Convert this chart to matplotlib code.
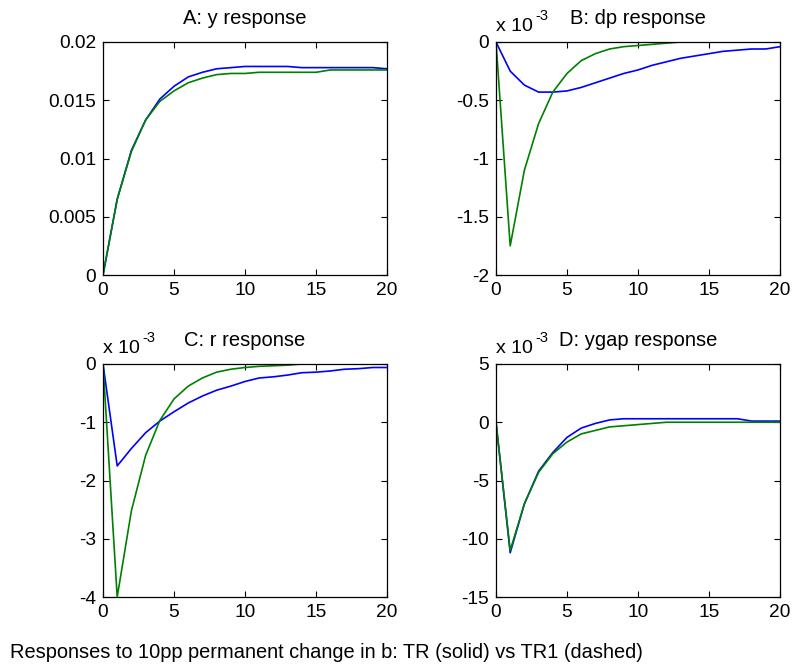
import numpy as np
import matplotlib.pyplot as plt

plt.rcParams['font.family'] = ['Liberation Sans', 'DejaVu Sans']

periods = np.arange(21)

# TR (blue) vs TR1 (green) impulse responses
y_tr = [0, 0.0065, 0.0107, 0.0133, 0.0151, 0.0162, 0.0170, 0.0174, 0.0177, 0.0178, 0.0179,
        0.0179, 0.0179, 0.0179, 0.0178, 0.0178, 0.0178, 0.0178, 0.0178, 0.0178, 0.0177]
y_tr1 = [0, 0.0065, 0.0106, 0.0133, 0.0149, 0.0158, 0.0165, 0.0169, 0.0172, 0.0173, 0.0173,
         0.0174, 0.0174, 0.0174, 0.0174, 0.0174, 0.0176, 0.0176, 0.0176, 0.0176, 0.0176]

dp_tr = [0, -0.25, -0.37, -0.43, -0.43, -0.42, -0.39, -0.35, -0.31, -0.27, -0.24,
         -0.20, -0.17, -0.14, -0.12, -0.10, -0.08, -0.07, -0.06, -0.06, -0.04]
dp_tr1 = [0, -1.75, -1.10, -0.70, -0.43, -0.27, -0.16, -0.10, -0.06, -0.04, -0.03,
          -0.02, -0.01, 0, 0, 0, 0, 0, 0, 0, 0]

r_tr = [0, -1.75, -1.45, -1.18, -0.98, -0.82, -0.67, -0.55, -0.45, -0.38, -0.30,
        -0.24, -0.22, -0.19, -0.15, -0.14, -0.12, -0.09, -0.08, -0.06, -0.06]
r_tr1 = [0, -4.0, -2.52, -1.57, -0.97, -0.60, -0.38, -0.24, -0.14, -0.09, -0.06,
         -0.04, -0.03, -0.02, 0, 0, 0, 0, 0, 0, 0]

ygap_tr = [0, -11.2, -7.0, -4.2, -2.6, -1.3, -0.5, -0.1, 0.2, 0.3, 0.3,
           0.3, 0.3, 0.3, 0.3, 0.3, 0.3, 0.3, 0.1, 0.1, 0.1]
ygap_tr1 = [0, -11.0, -7.0, -4.3, -2.7, -1.7, -1.0, -0.7, -0.4, -0.3, -0.2,
            -0.1, 0, 0, 0, 0, 0, 0, 0, 0, 0]

panels = [
    ('A: y response', y_tr, y_tr1, (0, 0.02), [0, 0.005, 0.01, 0.015, 0.02],
     ['0', '0.005', '0.01', '0.015', '0.02'], False),
    ('B: dp response', dp_tr, dp_tr1, (-2, 0), [-2, -1.5, -1, -0.5, 0],
     ['-2', '-1.5', '-1', '-0.5', '0'], True),
    ('C: r response', r_tr, r_tr1, (-4, 0), [-4, -3, -2, -1, 0],
     ['-4', '-3', '-2', '-1', '0'], True),
    ('D: ygap response', ygap_tr, ygap_tr1, (-15, 5), [-15, -10, -5, 0, 5],
     ['-15', '-10', '-5', '0', '5'], True),
]

W, H = 793, 671
fig = plt.figure(figsize=(W / 100, H / 100), dpi=100)

# axes boxes in pixels: left, top, right, bottom
boxes = [(103, 42, 387, 275), (496, 42, 780, 275),
         (103, 364, 387, 597), (496, 364, 780, 597)]

for (title, a, b, ylim, yt, ytl, scaled), (l, t, r, bt) in zip(panels, boxes):
    ax = fig.add_axes([l / W, 1 - bt / H, (r - l) / W, (bt - t) / H])
    ax.plot(periods, a, color='#0000ff', lw=1.2)
    ax.plot(periods, b, color='#008000', lw=1.2)
    ax.set_xlim(0, 20)
    ax.set_ylim(*ylim)
    ax.set_xticks([0, 5, 10, 15, 20])
    ax.set_yticks(yt)
    ax.set_yticklabels(ytl)
    ax.tick_params(direction='in', length=4, width=0.8, top=True, right=True,
                   labelsize=13.8, pad=5)
    for sp in ax.spines.values():
        sp.set_linewidth(0.9)
    ax.set_title(title, fontsize=14.5, pad=13)
    if scaled:
        # exponent label, MATLAB style: "x 10" with a raised "-3"
        ax.annotate('x 10', xy=(0, 1), xycoords='axes fraction',
                    xytext=(0, 8), textcoords='offset points',
                    fontsize=14, ha='left', va='baseline')
        ax.annotate('-3', xy=(0, 1), xycoords='axes fraction',
                    xytext=(28, 16), textcoords='offset points',
                    fontsize=10.5, ha='left', va='baseline')

fig.text(10 / W, 1 - 652 / H, 'Responses to 10pp permanent change in b: TR (solid) vs TR1 (dashed)',
         fontsize=14.4, ha='left', va='center')

fig.savefig('out.png', dpi=100)
